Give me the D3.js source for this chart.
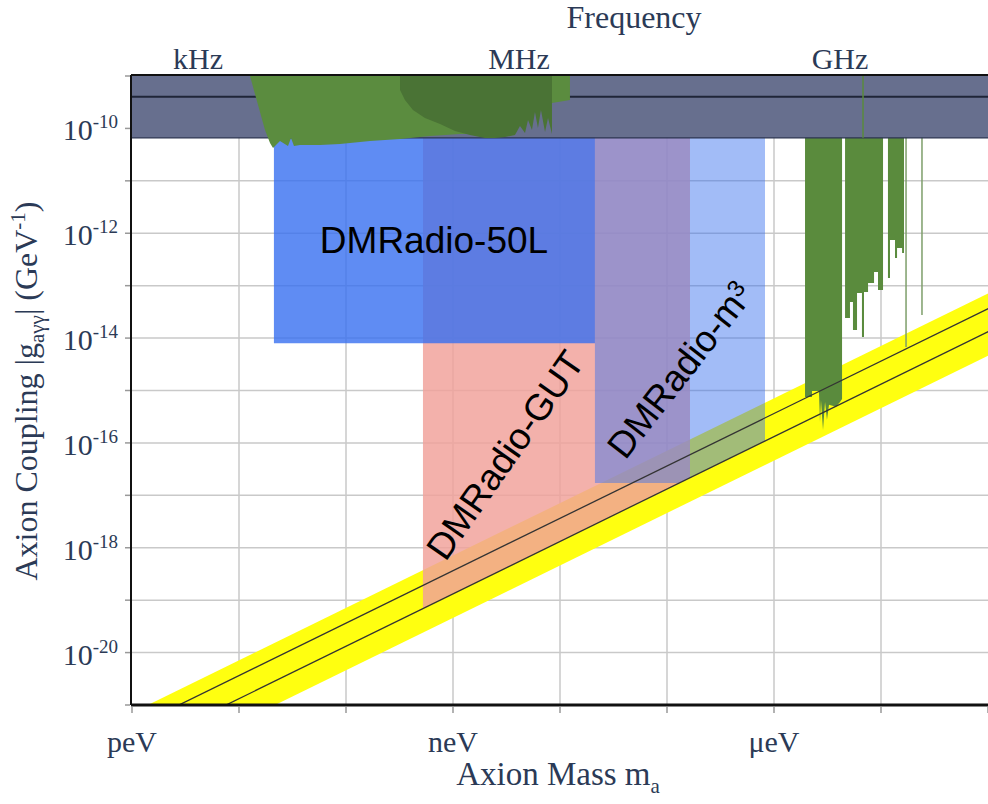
<!DOCTYPE html>
<html>
<head>
<meta charset="utf-8">
<script src="https://cdn.jsdelivr.net/npm/d3@7"></script>
<style>
  body { margin: 0; background: white; }
  svg { display: block; }
  .serif { font-family: "Liberation Serif", "DejaVu Serif", serif; fill: #2b3a56; }
  .sans { font-family: "Liberation Sans", Arial, sans-serif; fill: black; }
</style>
</head>
<body>
<svg id="chart" width="988" height="804"></svg>
<script>
// axis ticks (eV and GeV^-1)
const massTicks = [1e-12, 1e-11, 1e-10, 1e-9, 1e-8, 1e-7, 1e-6, 1e-5, 1e-4];
const massLabels = [[1e-12, "peV"], [1e-9, "neV"], [1e-6, "μeV"]];
const couplingExps = [-9, -10, -11, -12, -13, -14, -15, -16, -17, -18, -19, -20, -21];
const couplingLabelExps = [-10, -12, -14, -16, -18, -20];
const freqLabels = [[1e3, "kHz"], [1e6, "MHz"], [1e9, "GHz"]];
const planck = 4.1357e-15; // eV s

// QCD axion band, g = k * m   (GeV^-1 per eV)
const bandCoef = [7.1e-10, 4.6e-11];
const ksvzCoef = 3.64e-10;
const dfszCoef = 1.32e-10;

// existing limit band on top (CAST-like) and inner line
const topLimit = 6.6e-11;
const topLine = 4.0e-10;

// DMRadio projections
const dmr50L = { mMin: 2.12e-11, mMax: 2.12e-8, gMin: 8e-15 };
const dmrGUT = { mMin: 5.24e-10, mMax: 1.64e-7 };          // floor = DFSZ
const dmrM3 = { mMin: 2.12e-8, mMax: 8.24e-7, gFloor: 1.72e-17 };

// haloscope limits, [log10 m/eV, log10 g GeV]
const haloLight = [[-10.897, -9], [-10.822, -9.554], [-10.757, -10.031], [-10.710, -10.279],
  [-10.682, -10.374], [-10.617, -10.241], [-10.542, -10.336], [-10.514, -10.183],
  [-10.486, -10.336], [-10.430, -10.317], [-10.243, -10.317], [-10.056, -10.298],
  [-9.776, -10.241], [-9.495, -10.203], [-9.215, -10.145], [-8.935, -10.107],
  [-8.654, -10.107], [-8.561, -10.031], [-8.374, -9.802], [-8.075, -9.516],
  [-7.907, -9.459], [-7.907, -9]];
const haloDark = [[-9.495, -9], [-8.075, -9], [-8.075, -10.107], [-8.112, -9.802],
  [-8.140, -10.069], [-8.178, -9.649], [-8.206, -9.993], [-8.234, -9.687],
  [-8.262, -10.031], [-8.299, -9.840], [-8.327, -10.088], [-8.374, -9.955],
  [-8.421, -10.126], [-8.514, -10.164], [-8.607, -10.183], [-8.701, -10.183],
  [-8.841, -10.126], [-8.981, -10.050], [-9.121, -9.916], [-9.262, -9.802],
  [-9.374, -9.649], [-9.449, -9.459], [-9.495, -9.268]];
// GHz cavity limits: bottom profile of each bar
const cavity1 = [[-5.710, -15.124], [-5.645, -15.124], [-5.645, -15.010], [-5.580, -15.010],
  [-5.570, -15.600], [-5.561, -15.180], [-5.542, -15.754], [-5.523, -15.220],
  [-5.505, -15.560], [-5.486, -15.270], [-5.421, -15.310], [-5.383, -15.220], [-5.364, -15.160]];
const cavity2 = [[-5.336, -13.617], [-5.290, -13.617], [-5.290, -13.312], [-5.262, -13.312],
  [-5.262, -13.846], [-5.224, -13.846], [-5.224, -13.140], [-5.178, -13.140],
  [-5.178, -13.980], [-5.159, -13.980], [-5.159, -13.121], [-5.121, -13.121],
  [-5.121, -12.950], [-5.065, -12.950], [-5.065, -12.740], [-5.028, -12.740],
  [-5.028, -13.083], [-4.981, -13.083]];
const cavity3 = [[-4.935, -12.854], [-4.916, -12.854], [-4.916, -12.129], [-4.869, -12.129],
  [-4.869, -12.473], [-4.850, -12.473], [-4.850, -12.282], [-4.803, -12.282],
  [-4.803, -12.377], [-4.785, -12.377]];
const cavityLines = [[-4.766, -14.171], [-4.617, -13.560], [-5.168, -10.18]];

const svg = d3.select("#chart");
const plotLeft = 132, plotRight = 988, plotTop = 76, plotBottom = 705;

const x = d3.scaleLog().domain([1e-12, 1e-4]).range([plotLeft, plotRight]);
const y = d3.scaleLog().domain([1e-21, 1e-9]).range([plotBottom, plotTop]);
const px = d => x(Math.pow(10, d[0]));
const py = d => y(Math.pow(10, d[1]));
const poly = d3.line().x(d => x(d[0])).y(d => y(d[1]));
const polyLog = d3.line().x(px).y(py);

svg.append("defs").append("clipPath").attr("id", "plot")
  .append("rect").attr("x", plotLeft).attr("y", plotTop - 1)
  .attr("width", plotRight - plotLeft).attr("height", plotBottom - plotTop + 1);

const g = svg.append("g").attr("clip-path", "url(#plot)");

// grid
g.selectAll("line.vgrid").data(massTicks.slice(1, -1)).enter().append("line")
  .attr("x1", d => x(d)).attr("x2", d => x(d))
  .attr("y1", plotTop).attr("y2", plotBottom)
  .attr("stroke", "#c9c9c9").attr("stroke-width", 1.5);
g.selectAll("line.hgrid").data(couplingExps.slice(1, -1)).enter().append("line")
  .attr("x1", plotLeft).attr("x2", plotRight)
  .attr("y1", d => y(Math.pow(10, d))).attr("y2", d => y(Math.pow(10, d)))
  .attr("stroke", "#c9c9c9").attr("stroke-width", 1.5);

// QCD band
const mLo = 1e-13, mHi = 1e-3;
g.append("path")
  .attr("d", poly([[mLo, bandCoef[0] * mLo], [mHi, bandCoef[0] * mHi],
                   [mHi, bandCoef[1] * mHi], [mLo, bandCoef[1] * mLo]]) + "Z")
  .attr("fill", "#ffff10");

// DMRadio-GUT
const gTop = 1e-9;
g.append("path")
  .attr("d", poly([[dmrGUT.mMin, gTop], [dmrGUT.mMax, gTop],
                   [dmrGUT.mMax, dfszCoef * dmrGUT.mMax], [dmrGUT.mMin, dfszCoef * dmrGUT.mMin]]) + "Z")
  .attr("fill", "#f0a19a").attr("fill-opacity", 0.83);

// DMRadio-50L
g.append("path")
  .attr("d", poly([[dmr50L.mMin, gTop], [dmr50L.mMax, gTop],
                   [dmr50L.mMax, dmr50L.gMin], [dmr50L.mMin, dmr50L.gMin]]) + "Z")
  .attr("fill", "#376ff0").attr("fill-opacity", 0.8);

// DMRadio-m3
const mCross = dmrM3.gFloor / dfszCoef;
g.append("path")
  .attr("d", poly([[dmrM3.mMin, gTop], [dmrM3.mMax, gTop],
                   [dmrM3.mMax, dfszCoef * dmrM3.mMax], [mCross, dmrM3.gFloor],
                   [dmrM3.mMin, dmrM3.gFloor]]) + "Z")
  .attr("fill", "#3a70ee").attr("fill-opacity", 0.47);

// cavity bars (GHz)
[cavity1, cavity2, cavity3].forEach(function(c) {
  const pts = [[c[0][0], -9]].concat(c).concat([[c[c.length - 1][0], -9]]);
  g.append("path").attr("d", polyLog(pts) + "Z").attr("fill", "#5a8b3d");
});
g.selectAll("line.cav").data(cavityLines).enter().append("line")
  .attr("x1", px).attr("x2", px)
  .attr("y1", y(gTop)).attr("y2", py)
  .attr("stroke", "#7d9e6a").attr("stroke-width", 1.5);

// KSVZ / DFSZ lines
[ksvzCoef, dfszCoef].forEach(function(k) {
  g.append("path").attr("d", poly([[mLo, k * mLo], [mHi, k * mHi]]))
    .attr("fill", "none").attr("stroke", "#333").attr("stroke-width", 1.3);
});

// top limit band
g.append("rect")
  .attr("x", plotLeft).attr("width", plotRight - plotLeft)
  .attr("y", y(gTop)).attr("height", y(topLimit) - y(gTop))
  .attr("fill", "#676f8e");
g.append("line")
  .attr("x1", plotLeft).attr("x2", plotRight)
  .attr("y1", y(topLimit)).attr("y2", y(topLimit))
  .attr("stroke", "#2d3550").attr("stroke-width", 1.2);
g.append("line")
  .attr("x1", plotLeft).attr("x2", plotRight)
  .attr("y1", y(topLine)).attr("y2", y(topLine))
  .attr("stroke", "#1f2538").attr("stroke-width", 2);

// haloscope limits at low mass
g.append("path").attr("d", polyLog(haloLight) + "Z").attr("fill", "#5b8c3f");
g.append("path").attr("d", polyLog(haloDark) + "Z").attr("fill", "#4a7335");
g.append("line")
  .attr("x1", px(cavityLines[2])).attr("x2", px(cavityLines[2]))
  .attr("y1", y(gTop)).attr("y2", py(cavityLines[2]))
  .attr("stroke", "#5a8b3d").attr("stroke-width", 1.5);

// axes frame
svg.append("line").attr("x1", plotLeft - 1).attr("x2", plotRight).attr("y1", plotTop - 1).attr("y2", plotTop - 1)
  .attr("stroke", "#111").attr("stroke-width", 2);
svg.append("line").attr("x1", plotLeft - 1).attr("x2", plotLeft - 1).attr("y1", plotTop - 1).attr("y2", plotBottom)
  .attr("stroke", "#111").attr("stroke-width", 2);
svg.append("line").attr("x1", plotLeft - 1).attr("x2", plotRight).attr("y1", plotBottom).attr("y2", plotBottom)
  .attr("stroke", "#111").attr("stroke-width", 3);

svg.selectAll("line.ytick").data(couplingExps).enter().append("line")
  .attr("x1", plotLeft - 7).attr("x2", plotLeft - 2)
  .attr("y1", d => y(Math.pow(10, d))).attr("y2", d => y(Math.pow(10, d)))
  .attr("stroke", "#999").attr("stroke-width", 1.5);
svg.selectAll("line.xtick").data(massTicks).enter().append("line")
  .attr("x1", d => x(d)).attr("x2", d => x(d))
  .attr("y1", plotBottom + 2).attr("y2", plotBottom + 8)
  .attr("stroke", "#999").attr("stroke-width", 1.5);

// y tick labels
const yl = svg.selectAll("text.ylab").data(couplingLabelExps).enter().append("text")
  .attr("class", "serif").attr("text-anchor", "end")
  .attr("x", 118).attr("y", d => y(Math.pow(10, d)) + 12)
  .style("font-size", "30px");
yl.append("tspan").text("10");
yl.append("tspan").attr("dy", -12).style("font-size", "19px").text(d => String(d));

// x tick labels
svg.selectAll("text.xlab").data(massLabels).enter().append("text")
  .attr("class", "serif").attr("text-anchor", "middle")
  .attr("x", d => x(d[0])).attr("y", 752)
  .style("font-size", "30px").text(d => d[1]);

// frequency labels
svg.selectAll("text.flab").data(freqLabels).enter().append("text")
  .attr("class", "serif").attr("text-anchor", "middle")
  .attr("x", d => x(d[0] * planck)).attr("y", 69)
  .style("font-size", "30px").text(d => d[1]);

svg.append("text").attr("class", "serif").attr("text-anchor", "middle")
  .attr("x", 634).attr("y", 28).style("font-size", "32px").text("Frequency");

// x title
const xt = svg.append("text").attr("class", "serif").attr("text-anchor", "middle")
  .attr("x", 558).attr("y", 785).style("font-size", "33px");
xt.append("tspan").text("Axion Mass m");
xt.append("tspan").attr("dy", 8).style("font-size", "21px").text("a");

// y title
const yt = svg.append("text").attr("class", "serif").attr("text-anchor", "middle")
  .attr("transform", "translate(37,391) rotate(-90)").style("font-size", "32px");
yt.append("tspan").text("Axion Coupling |g");
yt.append("tspan").attr("dy", 7).style("font-size", "21px").text("aγγ");
yt.append("tspan").attr("dy", -7).text("| (GeV");
yt.append("tspan").attr("dy", -12).style("font-size", "21px").text("-1");
yt.append("tspan").attr("dy", 12).text(")");

// experiment labels
svg.append("text").attr("class", "sans").attr("text-anchor", "middle")
  .attr("x", 434).attr("y", 253).style("font-size", "37px").text("DMRadio-50L");

svg.append("text").attr("class", "sans").attr("text-anchor", "middle")
  .attr("transform", "translate(505,455) rotate(-55)").attr("dy", "0.35em")
  .style("font-size", "37px").text("DMRadio-GUT");

const m3 = svg.append("text").attr("class", "sans").attr("text-anchor", "middle")
  .attr("transform", "translate(680,370) rotate(-52)").attr("dy", "0.35em")
  .style("font-size", "37px");
m3.append("tspan").text("DMRadio-m");
m3.append("tspan").attr("dy", "-0.45em").style("font-size", "24px").text("3");
</script>
</body>
</html>
